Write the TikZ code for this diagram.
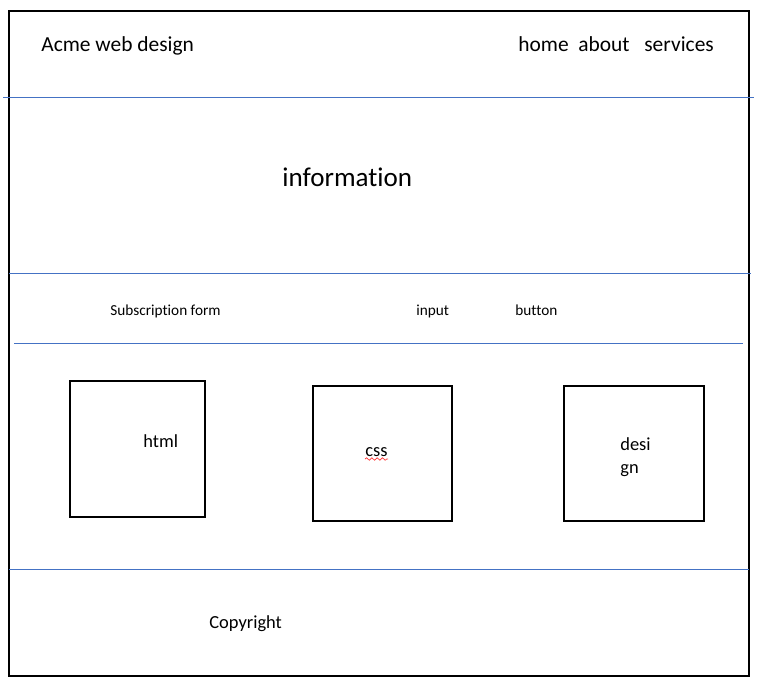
\documentclass[tikz,border=0pt]{standalone}
\usepackage{fontspec}
\setmainfont{Carlito}[Ligatures=NoCommon]
\usetikzlibrary{decorations.pathmorphing}
\usepackage{xcolor}
\definecolor{rulecol}{HTML}{4472C4}

\tikzset{
  txt/.style={inner sep=0pt, anchor=base west},
  big/.style={txt, font=\fontsize{15.4}{18}\selectfont},
  head/.style={txt, font=\fontsize{12.2}{14}\selectfont},
  mid/.style={txt, font=\fontsize{10.5}{12}\selectfont},
  tiny/.style={txt, font=\fontsize{8.7}{10}\selectfont},
  sep/.style={rulecol, line width=0.5pt},
  tile/.style={line width=1.2pt}
}

\begin{document}
\begin{tikzpicture}[x=0.02cm, y=-0.02cm]
\useasboundingbox (0,0) rectangle (764,683);

% page frame
\draw[line width=1.2pt] (9,11) rectangle (749,676);

% section rules
\draw[sep] (3,97) -- (754,97);
\draw[sep] (9,273) -- (751,273);
\draw[sep] (14,343) -- (743,343);
\draw[sep] (9,569) -- (749,569);

% header
\node[head] (brand) at (41,51) {Acme web design};
\node[head] (home) at (518,51) {home};
\node[head] (about) at (578,51) {about};
\node[head] (services) at (644,51) {services};

% hero
\node[big] (info) at (282,186) {information};

% subscription row
\node[tiny] (subs) at (110,315) {Subscription form};
\node[tiny] (input) at (416,315) {input};
\node[tiny] (button) at (515,315) {button};

% tiles
\draw[tile] (70,381) rectangle (205,517);
\draw[tile] (313,386) rectangle (452,521);
\draw[tile] (564,386) rectangle (704,521);
\node[mid] (html) at (143,447) {html};
\node[mid] (css) at (365,456) {css};
\draw[red!80, line width=0.4pt, decorate,
  decoration={snake, amplitude=0.7, segment length=3}]
  (css.base west) ++(0,3) -- ++(23,0);
\node[mid] (desi) at (620,450) {desi};
\node[mid] (gn) at (620,473) {gn};

% footer
\node[mid] (copy) at (209,628) {Copyright};

\end{tikzpicture}
\end{document}
